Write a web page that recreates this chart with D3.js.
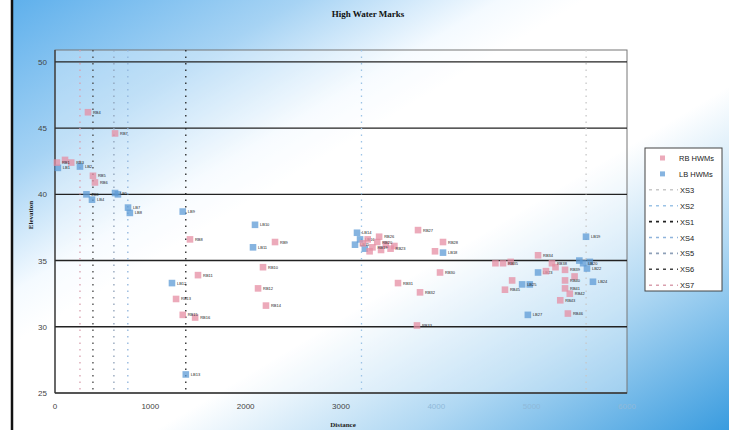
<!DOCTYPE html>
<html lang="en">
<head>
<meta charset="UTF-8">
<script src="https://d3js.org/d3.v7.min.js"></script>
<style>
body{margin:0;background:#fff;}
svg{display:block;}
.tick-label{font:8px "Liberation Sans",Arial,sans-serif;fill:#444;}
.ttl{font:bold 9px "Liberation Serif","Times New Roman",serif;fill:#111;}
.axttl{font:bold 7px "Liberation Serif","Times New Roman",serif;fill:#222;}
.lbl{font:4px "Liberation Sans",Arial,sans-serif;fill:#222;}
.leg{font:7.5px "Liberation Sans",Arial,sans-serif;fill:#222;}
</style>
</head>
<body>
<svg width="729" height="430"></svg>
<script>
// 右岸 high water marks: distance / elevation
const rbDist = [20, 105, 170, 346, 398, 419, 630, 1416, 2308, 2182, 1500, 2130, 1270, 2213, 1340, 1470,
  3230, 3280, 3330, 3380, 3420, 3470, 3520, 3300, 3560, 3400, 3808, 4070, 3986, 4039, 3598, 3829, 3797,
  5067, 4700, 4620, 4780, 5213, 5350, 5350, 5350, 5400, 5300, 4795, 4720, 5380, 5250, 5450, 5150];
const rbElev = [42.4, 42.6, 42.4, 46.2, 41.4, 40.9, 44.6, 36.6, 36.4, 34.5, 33.9, 32.9, 32.1, 31.6, 30.9, 30.7,
  36.3, 36.6, 36.0, 36.4, 35.8, 36.2, 35.9, 35.7, 36.1, 36.8, 37.3, 36.4, 35.7, 34.1, 33.3, 32.6, 30.1,
  35.4, 34.8, 34.8, 34.9, 34.8, 34.3, 33.5, 32.9, 32.5, 32.0, 33.5, 32.8, 31.0, 34.5, 33.8, 34.2];

// 左岸 high water marks
const lbDist = [30, 262, 330, 388, 630, 660, 766, 785, 1340, 2098, 2077, 1227, 1372,
  3168, 3147, 3200, 3250, 4070, 5570, 5540, 5610, 5580, 5067, 5643, 4900, 4980, 4960, 5500];
const lbElev = [42.0, 42.1, 40.0, 39.6, 40.1, 40.0, 39.0, 38.6, 38.7, 37.7, 36.0, 33.3, 26.4,
  37.1, 36.2, 36.6, 35.9, 35.6, 36.8, 34.8, 34.9, 34.4, 34.1, 33.4, 33.2, 33.2, 30.9, 35.0];

// cross sections
const xsNames = ["XS3", "XS2", "XS1", "XS4", "XS5", "XS6", "XS7"];
const xsDist  = [5571, 3215, 1372, 764, 618, 398, 262];
const xsColor = ["#c8c8c8", "#9cc3e6", "#222", "#8fb4dc", "#8ea0b8", "#444", "#d9a0ae"];

const xTicks = [0, 1000, 2000, 3000, 4000, 5000, 6000];
const yTicks = [25, 30, 35, 40, 45, 50];

const svg = d3.select("svg");
const defs = svg.append("defs");
const grad = defs.append("linearGradient").attr("id", "bg")
  .attr("x1", 0).attr("y1", 0).attr("x2", 1).attr("y2", 1);
[[0, "#5fb0ec"], [0.2, "#a6d3f4"], [0.34, "#f4faff"], [0.4, "#ffffff"], [0.6, "#ffffff"], [0.78, "#b0d8f3"], [1, "#3a9cdf"]]
  .forEach(s => grad.append("stop").attr("offset", s[0]).attr("stop-color", s[1]));

svg.append("rect").attr("x", 12).attr("y", 0).attr("width", 717).attr("height", 430).attr("fill", "url(#bg)");
svg.append("line").attr("x1", 12).attr("x2", 12).attr("y1", 0).attr("y2", 430)
  .attr("stroke", "#111").attr("stroke-width", 2.5);

const x = d3.scaleLinear().domain([0, 6000]).range([55, 627]);
const y = d3.scaleLinear().domain([25, 50.9]).range([393, 50]);

// plot area
svg.append("rect").attr("x", x(0)).attr("y", y(50.9)).attr("width", x(6000) - x(0)).attr("height", y(25) - y(50.9))
  .attr("fill", "#fff").attr("fill-opacity", 0.3).attr("stroke", "#777").attr("stroke-width", 1);

// gridlines
svg.append("g").selectAll("line").data(yTicks.slice(1)).join("line")
  .attr("x1", x(0)).attr("x2", x(6000)).attr("y1", d => y(d)).attr("y2", d => y(d))
  .attr("stroke", "#222").attr("stroke-width", 1.4);

// axes lines
svg.append("line").attr("x1", x(0)).attr("x2", x(6000)).attr("y1", y(25)).attr("y2", y(25))
  .attr("stroke", "#333").attr("stroke-width", 1.4);
svg.append("line").attr("x1", x(0)).attr("x2", x(0)).attr("y1", y(50.9)).attr("y2", y(25))
  .attr("stroke", "#333").attr("stroke-width", 1.2);

// tick labels
svg.append("g").selectAll("text").data(yTicks).join("text")
  .attr("class", "tick-label").attr("x", x(0) - 8).attr("y", d => y(d) + 3)
  .attr("text-anchor", "end").text(d => d);
svg.append("g").selectAll("text").data(xTicks).join("text")
  .attr("class", "tick-label").attr("x", d => x(d)).attr("y", 409)
  .attr("text-anchor", "middle").style("fill", d => d > 3000 ? "#8fb9d9" : "#444").text(d => d);

// cross section lines
svg.append("g").selectAll("line").data(xsDist).join("line")
  .attr("x1", d => x(d)).attr("x2", d => x(d)).attr("y1", y(50.9)).attr("y2", y(25))
  .attr("stroke", (d, i) => xsColor[i]).attr("stroke-width", 1.3).attr("stroke-dasharray", "1.5,5");

// points (labels skipped where they would collide)
const placed = [];
function drawMarks(dist, elev, col, pre) {
  const g = svg.append("g");
  g.selectAll("rect").data(dist).join("rect")
    .attr("x", d => x(d) - 3.3).attr("y", (d, i) => y(elev[i]) - 3.3)
    .attr("width", 6.6).attr("height", 6.6)
    .attr("fill", col).attr("fill-opacity", 0.75);
  dist.forEach((d, i) => {
    const txt = pre + (i + 1);
    const bx = x(d) + 5, by = y(elev[i]) - 2, bw = txt.length * 2.4 + 1, bh = 4.5;
    if (placed.some(p => bx < p[0] + p[2] && p[0] < bx + bw && by < p[1] + p[3] && p[1] < by + bh)) return;
    placed.push([bx, by, bw, bh]);
    g.append("text").attr("class", "lbl").attr("x", bx).attr("y", by + 3.5).text(txt);
  });
}
drawMarks(lbDist, lbElev, "#5d9bd6", "LB");
drawMarks(rbDist, rbElev, "#e58ea3", "RB");

// titles
svg.append("text").attr("class", "ttl").attr("x", 368).attr("y", 17).attr("text-anchor", "middle").text("High Water Marks");
svg.append("text").attr("class", "axttl").attr("x", 343).attr("y", 427).attr("text-anchor", "middle").text("Distance");
svg.append("text").attr("class", "axttl").attr("transform", "translate(33,215) rotate(-90)")
  .attr("text-anchor", "middle").text("Elevation");

// legend
const leg = svg.append("g").attr("transform", "translate(645,148)");
leg.append("rect").attr("width", 77).attr("height", 143).attr("fill", "#fff")
  .attr("stroke", "#444").attr("stroke-width", 1);
const legItems = [{n: "RB HWMs", c: "#e58ea3", m: true}, {n: "LB HWMs", c: "#5d9bd6", m: true}]
  .concat(xsNames.map((n, i) => ({n: n, c: xsColor[i], m: false})));
const li = leg.selectAll("g").data(legItems).join("g")
  .attr("transform", (d, i) => `translate(0,${10 + i * 15.9})`);
li.filter(d => d.m).append("rect").attr("x", 15).attr("y", -2.5).attr("width", 5).attr("height", 5)
  .attr("fill", d => d.c).attr("fill-opacity", 0.75);
li.filter(d => !d.m).append("line").attr("x1", 4).attr("x2", 33).attr("y1", 0).attr("y2", 0)
  .attr("stroke", d => d.c).attr("stroke-width", 1.6).attr("stroke-dasharray", "3,4");
li.append("text").attr("class", "leg").attr("x", d => d.m ? 34 : 35).attr("y", 3).text(d => d.n);
</script>
</body>
</html>
